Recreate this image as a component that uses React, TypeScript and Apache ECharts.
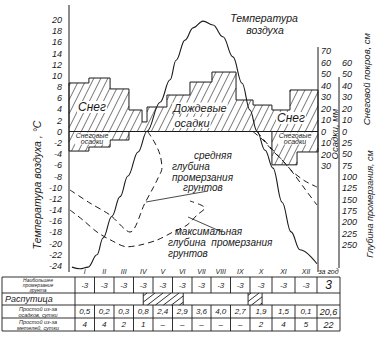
import React, { useEffect, useRef } from 'react';
import * as echarts from 'echarts';

// ---------- data ----------
const MONTHS = ['I', 'II', 'III', 'IV', 'V', 'VI', 'VII', 'VIII', 'IX', 'X', 'XI', 'XII'];
const YEAR_LABEL = 'за год';

// air temperature curve (x in months from 1 Jan, value in °C)
const TEMP_MONTH = [0.14, 0.53, 0.92, 1.35, 1.64, 2.07, 2.46, 2.84, 3.33, 3.76, 4.39, 4.87, 5.16, 5.59, 5.98, 6.46, 6.94, 7.42, 7.9, 8.34, 8.72, 9.06, 9.45, 9.83, 10.27, 10.7, 11.13, 11.95];
const TEMP_VALUE = [-24.2, -24.5, -24.2, -22.0, -19.0, -15.1, -11.6, -7.9, -3.6, 0.1, 5.3, 9.3, 12.8, 16.4, 18.6, 19.8, 19.1, 17.0, 13.4, 8.7, 3.9, 0.1, -3.3, -6.5, -12.6, -17.9, -21.1, -23.6];

// precipitation / snow histogram above zero (mm)
const PRECIP_EDGES = [0, 0.96, 1.98, 2.89, 3.52, 3.76, 4.72, 5.83, 6.89, 8.05, 8.87, 9.78, 10.65, 12];
const PRECIP_MM = [42.2, 46.5, 37.0, 18.7, 8.3, 21.3, 31.7, 43.0, 51.7, 27.4, 23.0, 18.7, 36.1];

// snowfall below zero (mm, drawn downwards)
const SNOWFALL_LEFT_EDGES = [0, 0.96, 1.98, 2.89];
const SNOWFALL_LEFT_MM = [17.0, 13.5, 7.4];
const SNOWFALL_RIGHT_EDGES = [9.78, 10.99, 12];
const SNOWFALL_RIGHT_MM = [29.0, 17.8];

// frost depth (cm)
const AVG_DEPTH_MONTH = [0.05, 1.01, 1.98, 2.94, 3.66, 4.05, 4.29, 4.48, 4.39, 4.14, 3.81];
const AVG_DEPTH_CM = [128.7, 157.4, 183.9, 221.4, 157.4, 124.3, 102.2, 80.1, 51.4, 24.9, 0.7];
const MAX_DEPTH_MONTH = [0.05, 0.67, 1.35, 1.98, 2.8, 3.42, 4.24, 5.01, 5.69, 6.17, 6.55, 5.83];
const MAX_DEPTH_CM = [172.8, 194.9, 221.4, 238.4, 253.9, 250.1, 239.1, 221.4, 206.0, 183.9, 168.4, 153.0];
const AVG_DEPTH_AUTUMN_MONTH = [8.87, 9.35, 9.78, 10.27, 10.8, 11.37, 11.95];
const AVG_DEPTH_AUTUMN_CM = [0, 18.3, 40.4, 62.5, 89.0, 108.8, 122.1];
const MAX_DEPTH_AUTUMN_MONTH = [9.06, 9.69, 10.27, 10.8, 11.37, 11.95];
const MAX_DEPTH_AUTUMN_CM = [0, 33.8, 62.5, 91.2, 126.5, 161.8];

// table
const FROST_ROW = ['-3', '-3', '-3', '-3', '-3', '-3', '-3', '-3', '-3', '-3', '-3', '-3'];
const FROST_YEAR = '3';
const MUD_SEASON = [[3.5, 5.55], [8.9, 9.55]];
const RAIN_DOWNTIME = ['0,5', '0,2', '0,3', '0,8', '2,4', '2,9', '3,6', '4,0', '2,7', '1,9', '1,5', '0,1'];
const RAIN_DOWNTIME_YEAR = '20,6';
const BLIZZARD_DOWNTIME = ['4', '4', '2', '1', '–', '–', '–', '–', '–', '2', '4', '5'];
const BLIZZARD_DOWNTIME_YEAR = '22';

// ---------- helpers ----------
const FONT = "'Liberation Sans', 'DejaVu Sans', sans-serif";
const INK = '#1a1a1a';

function hatchSegments(xa: number, xb: number, ya: number, yb: number, m: number, spacing: number) {
  const segs: number[][] = [];
  const cMin = xa + m * ya;
  const cMax = xb + m * yb;
  for (let c = Math.ceil(cMin / spacing) * spacing; c <= cMax; c += spacing) {
    const y1 = Math.max(ya, (c - xb) / m);
    const y2 = Math.min(yb, (c - xa) / m);
    if (y2 > y1) segs.push([c - m * y1, y1, c - m * y2, y2]);
  }
  return segs;
}

function stepOutline(edges: number[], heights: number[], sign: number) {
  const pts: number[][] = [[edges[0], 0]];
  heights.forEach((h, i) => {
    pts.push([edges[i], sign * h], [edges[i + 1], sign * h]);
  });
  pts.push([edges[edges.length - 1], 0]);
  return pts;
}

function blocks(edges: number[], heights: number[], sign: number) {
  return heights.map((h, i) => [edges[i], edges[i + 1], sign * h]);
}

function zip(xs: number[], ys: number[]) {
  return xs.map((x, i) => [x, ys[i]]);
}

function txt(text: string, x: number, y: number, size: number, extra: any = {}) {
  return {
    type: 'text',
    x,
    y,
    z: 100,
    rotation: extra.rotation || 0,
    style: {
      text,
      fill: INK,
      fontSize: size,
      fontStyle: 'italic',
      fontFamily: FONT,
      align: extra.align || 'center',
      textAlign: extra.align || 'center',
      verticalAlign: 'middle',
      textVerticalAlign: 'middle',
      backgroundColor: extra.bg,
      padding: extra.bg ? [0, 1] : 0,
      lineHeight: extra.lineHeight,
    },
  };
}

function ln(x1: number, y1: number, x2: number, y2: number, w = 1) {
  return { type: 'line', z: 100, shape: { x1, y1, x2, y2 }, style: { stroke: INK, lineWidth: w } };
}

export default function App() {
  const ref = useRef<HTMLDivElement>(null);

  useEffect(() => {
    document.body.style.margin = '0';
    const chart = echarts.init(ref.current!, null, { renderer: 'svg' });

    const GRID_L = 69;
    const GRID_R = 382 - 318;

    const hatchRender = (params: any, api: any) => {
      const a = api.coord([api.value(0), 0]);
      const b = api.coord([api.value(1), api.value(2)]);
      const xa = Math.min(a[0], b[0]);
      const xb = Math.max(a[0], b[0]);
      const ya = Math.min(a[1], b[1]);
      const yb = Math.max(a[1], b[1]);
      const segs = hatchSegments(xa, xb, ya, yb, 0.5, 7);
      return {
        type: 'group',
        children: segs.map((s) => ({
          type: 'line',
          shape: { x1: s[0], y1: s[1], x2: s[2], y2: s[3] },
          style: { stroke: '#333', lineWidth: 0.7 },
        })),
      };
    };

    // ----- table graphics -----
    const COL = [75, 94.5, 114, 133.5, 153, 172.5, 192, 211, 230.5, 250, 272, 295, 317, 340];
    const ROWS = [277, 293, 305, 318, 331];
    const TL = 2;
    const g: any[] = [];
    ROWS.forEach((y) => g.push(ln(TL, y, COL[COL.length - 1], y, 0.9)));
    g.push(ln(TL, ROWS[0], TL, ROWS[4], 0.9));
    COL.forEach((x, i) => {
      if (i === 0 || i === COL.length - 1) {
        g.push(ln(x, ROWS[0], x, ROWS[4], 0.9));
      } else {
        g.push(ln(x, ROWS[0], x, ROWS[1], 0.9));
        g.push(ln(x, ROWS[2], x, ROWS[4], 0.9));
      }
    });
    const colX = (m: number) => {
      const i = Math.min(Math.floor(m), 11);
      return COL[i] + (COL[i + 1] - COL[i]) * (m - i);
    };
    MUD_SEASON.forEach(([m0, m1]) => {
      const xa = colX(m0);
      const xb = colX(m1);
      g.push(ln(xa, ROWS[1], xa, ROWS[2], 0.9));
      g.push(ln(xb, ROWS[1], xb, ROWS[2], 0.9));
      hatchSegments(xa, xb, ROWS[1], ROWS[2], 1.3, 8).forEach((s) => g.push(ln(s[0], s[1], s[2], s[3], 0.9)));
    });
    const mid = (i: number) => (COL[i] + COL[i + 1]) / 2;
    MONTHS.forEach((m, i) => g.push(txt(m, mid(i), 271, 7)));
    g.push(txt(YEAR_LABEL, mid(12), 271, 7));
    FROST_ROW.forEach((v, i) => g.push(txt(v, mid(i), 285, 8)));
    g.push(txt(FROST_YEAR, mid(12), 285, 12));
    RAIN_DOWNTIME.forEach((v, i) => g.push(txt(v, mid(i), 311.5, 8)));
    g.push(txt(RAIN_DOWNTIME_YEAR, mid(12), 311.5, 9));
    BLIZZARD_DOWNTIME.forEach((v, i) => g.push(txt(v, mid(i), 324.5, 8)));
    g.push(txt(BLIZZARD_DOWNTIME_YEAR, mid(12), 324.5, 9));
    g.push(txt('Наибольшее\nпромерзание\nгрунта', 38, 285, 5, { lineHeight: 5 }));
    g.push(txt('Распутица', 5, 299, 9, { align: 'left' }));
    g.push(txt('Простой из-за\nосадков, сутки', 38, 311.5, 5.5, { lineHeight: 6 }));
    g.push(txt('Простой из-за\nметелей, сутки', 38, 324.5, 5.5, { lineHeight: 6 }));

    // ----- axis lines -----
    g.push(ln(69, 5, 69, 272, 1));
    g.push(ln(318, 47, 318, 272, 1));
    g.push(ln(339, 77, 339, 268, 1));

    // ----- titles & annotations -----
    g.push(txt('Температура воздуха , °C', 37, 185, 10.5, { rotation: Math.PI / 2 }));
    g.push(txt('Температура', 264, 18, 10.5));
    g.push(txt('воздуха', 265, 30, 10.5));
    g.push(txt('Осадки, мм', 334, 134, 9.5, { rotation: Math.PI / 2 }));
    g.push(txt('Снеговой покров, см', 366, 79, 9.5, { rotation: Math.PI / 2 }));
    g.push(txt('Глубина промерзания, см', 370, 204, 9, { rotation: Math.PI / 2 }));

    g.push(txt('Снег', 92, 107, 12, { bg: '#fff' }));
    g.push(txt('Дождевые', 200, 108, 11, { bg: '#fff' }));
    g.push(txt('осадки', 192, 122.5, 11, { bg: '#fff' }));
    g.push(txt('Снег', 291, 118, 12, { bg: '#fff' }));
    g.push(txt('Снеговые\nосадки', 92, 138.5, 7, { bg: '#fff', lineHeight: 6 }));
    g.push(txt('Снеговые\nосадки', 295, 138.5, 7, { bg: '#fff', lineHeight: 6 }));

    g.push(txt('средняя', 194, 155, 10, { align: 'left' }));
    g.push(txt('глубина', 172, 166, 10, { align: 'left' }));
    g.push(txt('промерзания', 172, 177, 10, { align: 'left' }));
    g.push(txt('грунтов', 183, 187, 10, { align: 'left' }));
    g.push(ln(208, 191, 146, 202, 0.8));

    g.push(txt('максимальная', 175, 231, 10, { align: 'left' }));
    g.push(txt('глубина  промерзания', 168, 242, 10, { align: 'left' }));
    g.push(txt('грунтов', 168, 253, 10, { align: 'left' }));
    g.push(ln(188, 217, 222, 232, 0.8));

    const axisLabel = { color: INK, fontSize: 9, fontStyle: 'italic', fontFamily: FONT };

    chart.setOption({
      animation: false,
      grid: [
        { left: GRID_L, right: GRID_R, top: 20, height: 246 },
        { left: GRID_L, right: GRID_R, top: 51, height: 115 },
        { left: GRID_L, right: GRID_R, top: 131.7, height: 113.3 },
      ],
      xAxis: [0, 1, 2].map((i) => ({ type: 'value', gridIndex: i, min: 0, max: 12, show: false })),
      yAxis: [
        {
          type: 'value', gridIndex: 0, position: 'left', min: -24, max: 20, interval: 2,
          axisLine: { show: false }, axisTick: { show: false }, splitLine: { show: false },
          axisLabel: { ...axisLabel, margin: 7 },
        },
        {
          type: 'value', gridIndex: 1, position: 'right', min: -30, max: 70, interval: 10,
          axisLine: { show: false }, axisTick: { show: false }, splitLine: { show: false },
          axisLabel: { ...axisLabel, margin: 3, formatter: (v: number) => String(Math.abs(v)) },
        },
        {
          type: 'value', gridIndex: 1, position: 'right', offset: 21, min: -30, max: 70, interval: 10,
          axisLine: { show: false }, axisTick: { show: false }, splitLine: { show: false },
          axisLabel: { ...axisLabel, margin: 3, formatter: (v: number) => (v >= 0 && v <= 60 ? String(v) : '') },
        },
        {
          type: 'value', gridIndex: 2, position: 'right', offset: 21, min: 0, max: 250, interval: 25, inverse: true,
          axisLine: { show: false }, axisTick: { show: false }, splitLine: { show: false },
          axisLabel: { ...axisLabel, margin: 3, formatter: (v: number) => (v === 0 ? '' : String(v)) },
        },
      ],
      series: [
        {
          type: 'custom', xAxisIndex: 1, yAxisIndex: 1, renderItem: hatchRender, clip: false,
          encode: { x: [0, 1], y: 2 },
          data: [
            ...blocks(PRECIP_EDGES, PRECIP_MM, 1),
            ...blocks(SNOWFALL_LEFT_EDGES, SNOWFALL_LEFT_MM, -1),
            ...blocks(SNOWFALL_RIGHT_EDGES, SNOWFALL_RIGHT_MM, -1),
          ],
        },
        ...[
          stepOutline(PRECIP_EDGES, PRECIP_MM, 1),
          stepOutline(SNOWFALL_LEFT_EDGES, SNOWFALL_LEFT_MM, -1),
          stepOutline(SNOWFALL_RIGHT_EDGES, SNOWFALL_RIGHT_MM, -1),
          [[0, 0], [12, 0]],
        ].map((d) => ({
          type: 'line', xAxisIndex: 1, yAxisIndex: 1, data: d, symbol: 'none', clip: false,
          lineStyle: { color: INK, width: 1 },
        })),
        {
          type: 'line', xAxisIndex: 0, yAxisIndex: 0, data: zip(TEMP_MONTH, TEMP_VALUE),
          symbol: 'none', smooth: 0.4, smoothMonotone: 'x', clip: false,
          lineStyle: { color: INK, width: 1.1 },
        },
        ...[
          zip(AVG_DEPTH_MONTH, AVG_DEPTH_CM),
          zip(MAX_DEPTH_MONTH, MAX_DEPTH_CM),
          zip(AVG_DEPTH_AUTUMN_MONTH, AVG_DEPTH_AUTUMN_CM),
          zip(MAX_DEPTH_AUTUMN_MONTH, MAX_DEPTH_AUTUMN_CM),
        ].map((d) => ({
          type: 'line', xAxisIndex: 2, yAxisIndex: 3, data: d, symbol: 'none', smooth: 0.3, clip: false,
          lineStyle: { color: INK, width: 1, type: [6, 4] },
        })),
      ],
      graphic: { elements: g },
    });

    return () => chart.dispose();
  }, []);

  return <div ref={ref} style={{ width: 382, height: 337 }} />;
}
